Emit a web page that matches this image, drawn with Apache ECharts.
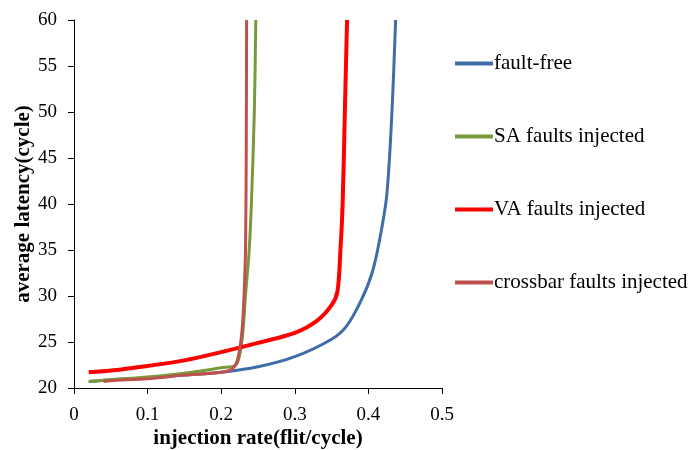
<!DOCTYPE html>
<html>
<head>
<meta charset="utf-8">
<script src="https://cdn.jsdelivr.net/npm/echarts@6/dist/echarts.min.js"></script>
<style>html,body{margin:0;padding:0;background:#fff}#c{width:694px;height:450px}</style>
</head>
<body>
<div id="c"></div>
<script>
const seriesNames = ['fault-free', 'SA faults injected', 'VA faults injected', 'crossbar faults injected'];
const faultFreeX = [0.02, 0.05, 0.1, 0.15, 0.2, 0.25, 0.3, 0.35, 0.37, 0.39, 0.405, 0.415, 0.425, 0.432, 0.437];
const faultFreeY = [20.7, 20.9, 21.1, 21.4, 21.7, 22.3, 23.4, 25.3, 26.7, 29.5, 32.5, 36, 41, 50, 60];
const saX = [0.02, 0.05, 0.1, 0.15, 0.2, 0.22, 0.228, 0.233, 0.238, 0.241, 0.245, 0.247];
const saY = [20.7, 20.9, 21.2, 21.6, 22.2, 22.5, 25, 30, 35, 40, 50, 60];
const vaX = [0.02, 0.05, 0.1, 0.15, 0.2, 0.25, 0.3, 0.33, 0.35, 0.358, 0.362, 0.365, 0.368, 0.371];
const vaY = [21.7, 21.9, 22.4, 23.0, 23.9, 24.9, 26.0, 27.3, 29.0, 30.5, 35, 40, 50, 60];
const xbX = [0.04, 0.05, 0.1, 0.15, 0.2, 0.215, 0.222, 0.228, 0.231, 0.233, 0.234, 0.2345];
const xbY = [20.7, 20.8, 21.0, 21.4, 21.7, 22.1, 23, 26, 30, 35, 45, 60];
const xTicks = [0, 0.1, 0.2, 0.3, 0.4, 0.5];
const yTicks = [20, 25, 30, 35, 40, 45, 50, 55, 60];

const zip = (xs, ys) => xs.map((x, i) => [x, ys[i]]);
const colors = ['#3F6DAA', '#789A3D', '#FF0000', '#C0504D'];
const widths = [3, 3, 4, 3];
const dataSets = [zip(faultFreeX, faultFreeY), zip(saX, saY), zip(vaX, vaY), zip(xbX, xbY)];
const font = '"Liberation Serif", "DejaVu Serif", serif';

const chart = echarts.init(document.getElementById('c'), null, {renderer: 'canvas'});
chart.setOption({
  backgroundColor: '#fff',
  animation: false,
  grid: {left: 74, right: 252, top: 20, bottom: 62, containLabel: false, outerBoundsMode: 'none'},
  legend: {
    orient: 'vertical',
    left: 450,
    top: 48,
    itemGap: 52,
    itemWidth: 38,
    itemHeight: 4,
    icon: 'rect',
    textStyle: {fontFamily: font, fontSize: 21, color: '#000', padding: [0, 0, 0, -4]},
    data: seriesNames
  },
  xAxis: {
    type: 'value', min: 0, max: 0.5, interval: 0.1,
    name: 'injection rate(flit/cycle)', nameLocation: 'middle', nameGap: 40, nameMoveOverlap: false,
    nameTextStyle: {fontFamily: font, fontSize: 21, fontWeight: 'bold', color: '#000'},
    axisLine: {show: true, lineStyle: {color: '#000', width: 1}},
    axisTick: {show: true, inside: false, length: 6, lineStyle: {color: '#000'}},
    axisLabel: {fontFamily: font, fontSize: 19, color: '#000', margin: 18,
      formatter: v => xTicks.includes(+v.toFixed(1)) ? String(+v.toFixed(1)) : ''},
    splitLine: {show: false}
  },
  yAxis: {
    type: 'value', min: 20, max: 60, interval: 5,
    name: 'average latency(cycle)', nameLocation: 'middle', nameGap: 40, nameMoveOverlap: false,
    nameTextStyle: {fontFamily: font, fontSize: 21, fontWeight: 'bold', color: '#000'},
    axisLine: {show: true, lineStyle: {color: '#000', width: 1}},
    axisTick: {show: true, inside: false, length: 6, lineStyle: {color: '#000'}},
    axisLabel: {fontFamily: font, fontSize: 19, color: '#000', margin: 17,
      formatter: v => yTicks.includes(v) ? String(v) : ''},
    splitLine: {show: false}
  },
  series: seriesNames.map((n, i) => ({
    name: n, type: 'line', data: dataSets[i], smooth: 0.3,
    showSymbol: false, symbol: 'none',
    itemStyle: {color: colors[i]},
    lineStyle: {color: colors[i], width: widths[i]},
    z: i === 3 ? 5 : 2
  }))
});
</script>
</body>
</html>
